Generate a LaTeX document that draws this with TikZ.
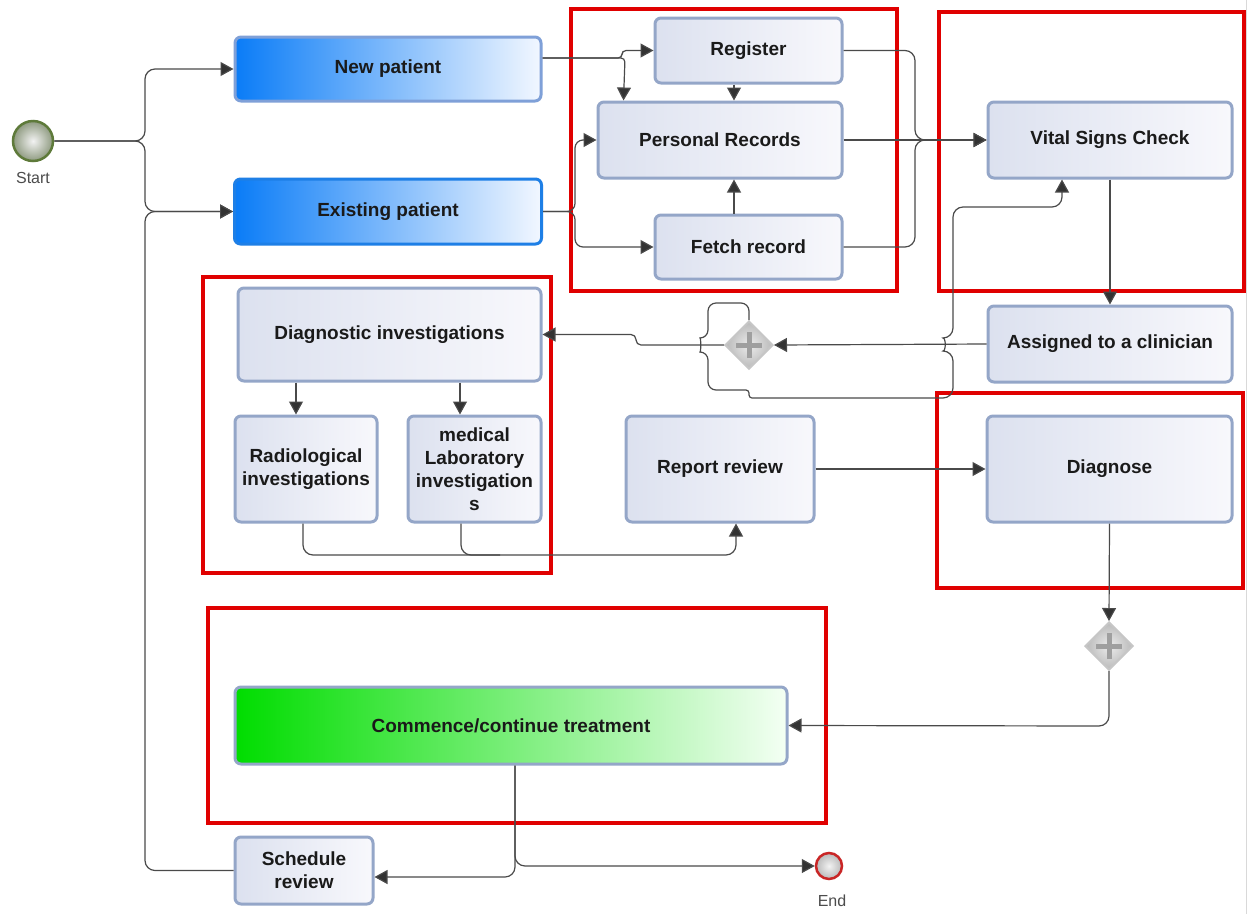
\documentclass[tikz,border=0pt]{standalone}
\usepackage{fontspec}
\setmainfont{Liberation Sans}
\usetikzlibrary{arrows.meta,shapes.geometric,calc}
\definecolor{boxborder}{HTML}{94A6C8}
\definecolor{boxleft}{HTML}{DCE1EF}
\definecolor{boxright}{HTML}{F8F8FC}
\definecolor{redframe}{HTML}{E00000}
\definecolor{lineclr}{HTML}{4A4A4A}
\definecolor{tipclr}{HTML}{333333}
\definecolor{txt}{HTML}{1A1A1A}
\definecolor{blueleft}{HTML}{0A7CF7}
\definecolor{blueright}{HTML}{F2F7FF}
\definecolor{blueborder}{HTML}{1E7FE6}
\definecolor{lightblueborder}{HTML}{7FA0D8}
\definecolor{greenleft}{HTML}{00DD00}
\definecolor{greenright}{HTML}{F4FFF4}
\definecolor{startborder}{HTML}{5E7A3A}
\definecolor{startouter}{HTML}{8E9A80}
\tikzset{
  task/.style={draw=boxborder, line width=3pt, rounded corners=6pt,
    left color=boxleft, right color=boxright, text=txt,
    font=\bfseries\fontsize{19}{23}\selectfont, align=center, inner sep=0pt},
  bluetask/.style={task, left color=blueleft, right color=blueright},
  greentask/.style={task, left color=greenleft, right color=greenright},
  redbox/.style={draw=redframe, line width=4pt},
  conn/.style={draw=lineclr, line width=1.2pt, -{Triangle[length=13pt,width=14pt,fill=tipclr]}},
  plain/.style={draw=lineclr, line width=1.2pt},
  gate/.style={diamond, aspect=1, minimum width=48pt, minimum height=48pt, inner sep=0pt,
    draw=gray!45, line width=2pt, inner color=gray!15, outer color=gray!55},
  plus/.style={draw=gray!75, line width=5pt},
  evlabel/.style={text=black!70, font=\fontsize{16}{18}\selectfont},
}
\begin{document}
\begin{tikzpicture}[x={(1pt,0pt)}, y={(0pt,-1pt)}]
\useasboundingbox (0,0) rectangle (1248,914);
\fill[white] (0,0) rectangle (1248,914);
\draw[gray!30, line width=1pt] (1246.5,0) -- (1246.5,914);

% red frames
\draw[redbox] (571,9) rectangle (897,291);
\draw[redbox] (939,12) rectangle (1244,291);
\draw[redbox] (203,277) rectangle (551,573);
\draw[redbox] (937,393) rectangle (1243,588);
\draw[redbox] (208,608) rectangle (826,823);

% events
\node[circle, minimum size=40pt, inner sep=0pt, draw=startborder, line width=2.5pt,
      inner color=gray!10, outer color=startouter] (start) at (33,141) {};
\node[evlabel] (startlbl) at (33,178) {Start};
\node[circle, minimum size=26pt, inner sep=0pt, draw=red!75!black!85, line width=2.5pt,
      inner color=gray!10, outer color=gray!55] (endn) at (829,866) {};
\node[evlabel] (endlbl) at (832,901) {End};

% tasks
\node[bluetask, draw=lightblueborder, minimum width=306pt, minimum height=64pt] (newp) at (388,69) {New patient};
\node[bluetask, draw=blueborder, minimum width=307pt, minimum height=65pt] (exist) at (388,211.5) {Existing patient};
\node[task, minimum width=187pt, minimum height=65pt] (reg) at (748.5,50.5) {Register};
\node[task, minimum width=244pt, minimum height=76pt] (prec) at (720,140) {Personal Records};
\node[task, minimum width=187pt, minimum height=64pt] (fetch) at (748.5,247) {Fetch record};
\node[task, minimum width=244pt, minimum height=76pt] (vital) at (1110,140) {Vital Signs Check};
\node[task, minimum width=244pt, minimum height=76pt] (assign) at (1110,344) {Assigned to a clinician};
\node[task, minimum width=303pt, minimum height=93pt] (diag) at (389.5,334.5) {Diagnostic investigations};
\node[task, minimum width=142pt, minimum height=106pt] (radio) at (306,469) {Radiological\\investigations};
\node[task, minimum width=133pt, minimum height=106pt] (medlab) at (474.5,469) {medical\\Laboratory\\investigation\\s};
\node[task, minimum width=188pt, minimum height=106pt] (report) at (720,469) {Report review};
\node[task, minimum width=245pt, minimum height=106pt] (diagnose) at (1109.5,469) {Diagnose};
\node[greentask, minimum width=552pt, minimum height=77pt] (treat) at (511,725.5) {Commence/continue treatment};
\node[task, minimum width=138pt, minimum height=67pt] (sched) at (304,870.5) {Schedule\\review};

% gateways
\node[gate] (gw1) at (749,345) {};
\draw[plus] ([xshift=-13pt]gw1.center) -- ([xshift=13pt]gw1.center);
\draw[plus] ([yshift=-13pt]gw1.center) -- ([yshift=13pt]gw1.center);
\node[gate] (gw2) at (1109,646) {};
\draw[plus] ([xshift=-13pt]gw2.center) -- ([xshift=13pt]gw2.center);
\draw[plus] ([yshift=-13pt]gw2.center) -- ([yshift=13pt]gw2.center);

% connectors
\draw[conn, rounded corners=10pt] (start.east) -- (145,141) -- (145,69) -- (newp.west);
\draw[conn, rounded corners=10pt] (start.east) -- (145,141) -- (145,211.5) -- (exist.west);
\draw[conn, rounded corners=10pt] (sched.west) -- (145,870.5) -- (145,211.5) -- (exist.west);

\draw[conn, rounded corners=4pt] ([yshift=11pt]newp.east) -- (622,58) -- (622,50.5) -- (reg.west);
\draw[conn, rounded corners=4pt] ([yshift=11pt]newp.east) -- (625,58) -- ([xshift=27pt]prec.north west);
\draw[conn] ([xshift=-14.5pt]reg.south) -- ([xshift=14pt]prec.north);
\draw[conn, rounded corners=8pt] (exist.east) -- (575,211.5) -- (575,140) -- (prec.west);
\draw[conn, rounded corners=8pt] (exist.east) -- (575,211.5) -- (575,247) -- (fetch.west);
\draw[conn] ([xshift=-14.5pt]fetch.north) -- ([xshift=14pt]prec.south);

\draw[conn, rounded corners=10pt] (reg.east) -- (915,50.5) -- (915,140) -- (vital.west);
\draw[conn] (prec.east) -- (vital.west);
\draw[conn, rounded corners=10pt] (fetch.east) -- (915,247) -- (915,140) -- (vital.west);

\draw[conn] (vital.south) -- (assign.north);
\draw[conn] (assign.west) -- (gw1.east);
\draw[conn, rounded corners=5pt] (gw1.west) -- (636,345) -- (636,334.5) -- (diag.east);

% loop from gateway back to vital signs
\draw[conn, rounded corners=8pt] (gw1.north) -- (749,303) -- (708,303) -- (708,338)
   .. controls (701,338) and (701,352) .. (708,352) -- (708,390)
   [rounded corners=3pt] -- (749,390) -- (749,398)
   [rounded corners=10pt] -- (953,398) -- (953,351)
   .. controls (946,351) and (946,338) .. (953,338) -- (953,207) -- (1062,207)
   -- ([xshift=-48pt]vital.south);

\draw[conn] ([xshift=-93.5pt]diag.south) -- ([xshift=-10pt]radio.north);
\draw[conn] ([xshift=70.5pt]diag.south) -- ([xshift=-14.5pt]medlab.north);
\draw[conn, rounded corners=10pt] ([xshift=-3pt]radio.south) -- (303,555) -- (736,555) -- ([xshift=16pt]report.south);
\draw[plain, rounded corners=10pt] ([xshift=-13.5pt]medlab.south) -- (461,555) -- (500,555);

\draw[conn] (report.east) -- (diagnose.west);
\draw[conn] (diagnose.south) -- (gw2.north);
\draw[conn, rounded corners=10pt] (gw2.south) -- (1109,726) -- (treat.east);

\draw[conn, rounded corners=10pt] ([xshift=4pt]treat.south) -- (515,866) -- (endn.west);
\draw[conn, rounded corners=10pt] ([xshift=4pt]treat.south) -- (515,877) -- ([yshift=-6.5pt]sched.east);
\end{tikzpicture}
\end{document}
